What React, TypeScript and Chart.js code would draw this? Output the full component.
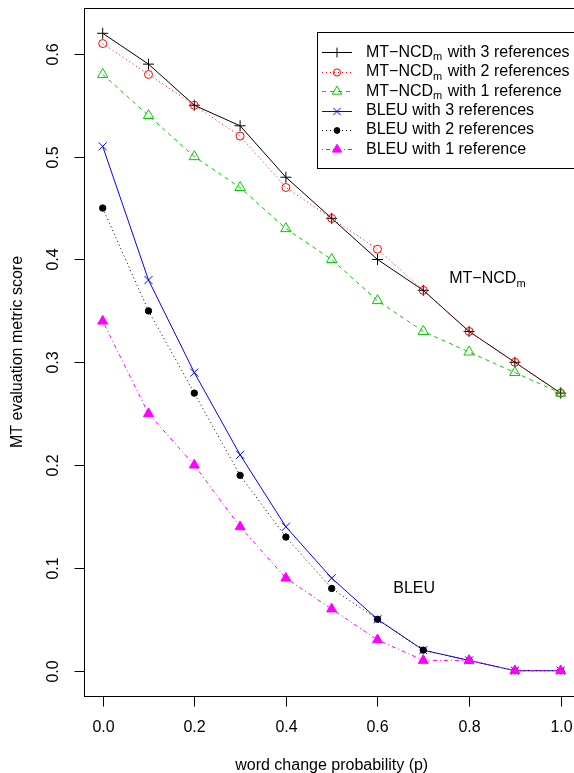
import React, { useEffect, useRef } from "react";
import { Chart, registerables } from "chart.js";

Chart.register(...registerables);

// ---- data ----
const probabilities = [0, 0.1, 0.2, 0.3, 0.4, 0.5, 0.6, 0.7, 0.8, 0.9, 1.0];
const mtncd3 = [0.62, 0.59, 0.55, 0.53, 0.48, 0.44, 0.40, 0.37, 0.33, 0.30, 0.27];
const mtncd2 = [0.61, 0.58, 0.55, 0.52, 0.47, 0.44, 0.41, 0.37, 0.33, 0.30, 0.27];
const mtncd1 = [0.58, 0.54, 0.50, 0.47, 0.43, 0.40, 0.36, 0.33, 0.31, 0.29, 0.27];
const bleu3 = [0.51, 0.38, 0.29, 0.21, 0.14, 0.09, 0.05, 0.02, 0.01, 0.0, 0.0];
const bleu2 = [0.45, 0.35, 0.27, 0.19, 0.13, 0.08, 0.05, 0.02, 0.01, 0.0, 0.0];
const bleu1 = [0.34, 0.25, 0.20, 0.14, 0.09, 0.06, 0.03, 0.01, 0.01, 0.0, 0.0];

const xTicks = [0, 0.2, 0.4, 0.6, 0.8, 1.0];
const xTickLabels = ["0.0", "0.2", "0.4", "0.6", "0.8", "1.0"];
const yTicks = [0, 0.1, 0.2, 0.3, 0.4, 0.5, 0.6];
const yTickLabels = ["0.0", "0.1", "0.2", "0.3", "0.4", "0.5", "0.6"];

const seriesMain = ["MT−NCD", "MT−NCD", "MT−NCD", "BLEU", "BLEU", "BLEU"];
const seriesSub = ["m", "m", "m", "", "", ""];
const seriesTail = [
  " with 3 references",
  " with 2 references",
  " with 1 reference",
  " with 3 references",
  " with 2 references",
  " with 1 reference",
];

const xTitle = "word change probability (p)";
const yTitle = "MT evaluation metric score";

const annotMain = ["MT−NCD", "BLEU"];
const annotSub = ["m", ""];
const annotX = [0.84, 0.68];
const annotY = [0.381, 0.08];

// ---- styles ----
const FONT = '"Liberation Sans", Arial, Helvetica, sans-serif';
const colors = ["#000000", "#FF0000", "#00CD00", "#0000FF", "#000000", "#FF00FF"];
const dashes: number[][] = [[], [1, 3], [4, 4], [], [1, 3], [1, 3, 4, 3]];
const pStyles = ["cross", "circle", "triangle", "crossRot", "circle", "triangle"];
const pRadius = [5.5, 4, 6, 5.7, 3.2, 5.8];
const pFilled = [false, false, false, false, true, true];

type Part = { t: string; sub?: boolean };

function richWidth(ctx: CanvasRenderingContext2D, parts: Part[]) {
  let w = 0;
  for (const p of parts) {
    ctx.font = p.sub ? `11px ${FONT}` : `16px ${FONT}`;
    w += ctx.measureText(p.t).width;
  }
  return w;
}

function drawRich(ctx: CanvasRenderingContext2D, parts: Part[], x: number, y: number) {
  ctx.textAlign = "left";
  ctx.textBaseline = "middle";
  let cx = x;
  for (const p of parts) {
    ctx.font = p.sub ? `11px ${FONT}` : `16px ${FONT}`;
    ctx.fillText(p.t, cx, p.sub ? y + 5 : y);
    cx += ctx.measureText(p.t).width + (p.sub ? 1 : 0);
  }
}

function drawSym(
  ctx: CanvasRenderingContext2D,
  style: string,
  x: number,
  y: number,
  r: number,
  color: string,
  filled: boolean
) {
  ctx.save();
  ctx.setLineDash([]);
  ctx.strokeStyle = color;
  ctx.fillStyle = color;
  ctx.lineWidth = 1;
  ctx.beginPath();
  if (style === "cross") {
    ctx.moveTo(x - r, y);
    ctx.lineTo(x + r, y);
    ctx.moveTo(x, y - r);
    ctx.lineTo(x, y + r);
    ctx.stroke();
  } else if (style === "crossRot") {
    const d = r * Math.SQRT1_2;
    ctx.moveTo(x - d, y - d);
    ctx.lineTo(x + d, y + d);
    ctx.moveTo(x - d, y + d);
    ctx.lineTo(x + d, y - d);
    ctx.stroke();
  } else if (style === "circle") {
    ctx.arc(x, y, r, 0, Math.PI * 2);
    if (filled) ctx.fill();
    ctx.stroke();
  } else if (style === "triangle") {
    for (let k = 0; k < 3; k++) {
      const a = (k * 2 * Math.PI) / 3;
      const px = x + Math.sin(a) * r;
      const py = y - Math.cos(a) * r;
      if (k === 0) ctx.moveTo(px, py);
      else ctx.lineTo(px, py);
    }
    ctx.closePath();
    if (filled) ctx.fill();
    ctx.stroke();
  }
  ctx.restore();
}

const rBasePlugin = {
  id: "rbase",
  afterDraw(chart: any) {
    const ctx: CanvasRenderingContext2D = chart.ctx;
    const { left, right, top, bottom } = chart.chartArea;
    const xs = chart.scales.x;
    const ys = chart.scales.y;
    const c = (v: number) => Math.round(v) + 0.5;
    ctx.save();
    ctx.strokeStyle = "#000";
    ctx.fillStyle = "#000";
    ctx.lineWidth = 1;
    ctx.setLineDash([]);
    // box
    ctx.strokeRect(c(left), c(top), Math.round(right - left), Math.round(bottom - top));

    // x axis ticks
    ctx.font = `16px ${FONT}`;
    ctx.textAlign = "center";
    ctx.textBaseline = "middle";
    xTicks.forEach((v, i) => {
      const px = c(xs.getPixelForValue(v));
      ctx.beginPath();
      ctx.moveTo(px, c(bottom));
      ctx.lineTo(px, c(bottom) + 10);
      ctx.stroke();
      ctx.fillText(xTickLabels[i], px, bottom + 31);
    });
    // y axis ticks
    yTicks.forEach((v, i) => {
      const py = c(ys.getPixelForValue(v));
      ctx.beginPath();
      ctx.moveTo(c(left), py);
      ctx.lineTo(c(left) - 10, py);
      ctx.stroke();
      ctx.save();
      ctx.translate(left - 30.5, py);
      ctx.rotate(-Math.PI / 2);
      ctx.fillText(yTickLabels[i], 0, 0);
      ctx.restore();
    });
    // titles
    ctx.fillText(xTitle, (left + right) / 2, bottom + 69);
    ctx.save();
    ctx.translate(18, (top + bottom) / 2);
    ctx.rotate(-Math.PI / 2);
    ctx.fillText(yTitle, 0, 0);
    ctx.restore();

    // annotations
    annotMain.forEach((m, i) => {
      const parts: Part[] = [{ t: m }];
      if (annotSub[i]) parts.push({ t: annotSub[i], sub: true });
      const w = richWidth(ctx, parts);
      const px = xs.getPixelForValue(annotX[i]);
      const py = ys.getPixelForValue(annotY[i]);
      ctx.fillStyle = "#000";
      drawRich(ctx, parts, px - w / 2, py);
    });

    // legend
    const lx = 317.5, ly = 32.5, lw = 262, lh = 136;
    ctx.fillStyle = "#fff";
    ctx.fillRect(lx, ly, lw, lh);
    ctx.strokeStyle = "#000";
    ctx.strokeRect(lx, ly, lw, lh);
    chart.data.datasets.forEach((ds: any, i: number) => {
      const ry = 52.3 + i * 19.4;
      ctx.save();
      ctx.strokeStyle = colors[i];
      ctx.lineWidth = 1;
      ctx.setLineDash(dashes[i]);
      ctx.beginPath();
      ctx.moveTo(322, Math.round(ry) + 0.5);
      ctx.lineTo(352, Math.round(ry) + 0.5);
      ctx.stroke();
      ctx.restore();
      ctx.fillStyle = "#fff";
      drawSym(ctx, pStyles[i], 337, Math.round(ry) + 0.5, pRadius[i] * 0.9, colors[i], pFilled[i]);
      const parts: Part[] = [{ t: seriesMain[i] }];
      if (seriesSub[i]) parts.push({ t: seriesSub[i], sub: true });
      parts.push({ t: seriesTail[i] });
      ctx.fillStyle = "#000";
      drawRich(ctx, parts, 366, ry);
    });
    ctx.restore();
  },
};

export default function App() {
  const ref = useRef<HTMLCanvasElement | null>(null);
  useEffect(() => {
    if (!ref.current) return;
    const all = [mtncd3, mtncd2, mtncd1, bleu3, bleu2, bleu1];
    const chart = new Chart(ref.current, {
      type: "line",
      data: {
        datasets: all.map((vals, i) => ({
          label: seriesMain[i] + seriesSub[i] + seriesTail[i],
          data: probabilities.map((p, k) => ({ x: p, y: vals[k] })),
          borderColor: colors[i],
          backgroundColor: pFilled[i] ? colors[i] : "rgba(0,0,0,0)",
          borderWidth: 1,
          borderDash: dashes[i],
          pointStyle: pStyles[i] as any,
          pointRadius: pRadius[i],
          pointBorderWidth: 1,
          pointBorderColor: colors[i],
          pointBackgroundColor: pFilled[i] ? colors[i] : "rgba(0,0,0,0)",
          tension: 0,
          fill: false,
          order: 6 - i,
        })),
      },
      options: {
        responsive: false,
        animation: false,
        layout: { padding: { left: 84.4, top: 7.8, right: 21, bottom: 76.8 } },
        scales: {
          x: { type: "linear", min: -0.04, max: 1.04, display: false },
          y: { type: "linear", min: -0.0248, max: 0.6448, display: false },
        },
        plugins: {
          legend: { display: false },
          tooltip: { enabled: false },
        },
      },
      plugins: [rBasePlugin],
    });
    return () => chart.destroy();
  }, []);
  return (
    <div
      style={{
        position: "fixed",
        left: 0,
        top: 0,
        width: 574,
        height: 773,
        overflow: "hidden",
        background: "#fff",
      }}
    >
      <canvas ref={ref} width={600} height={773} style={{ display: "block", width: 600, height: 773 }} />
    </div>
  );
}
